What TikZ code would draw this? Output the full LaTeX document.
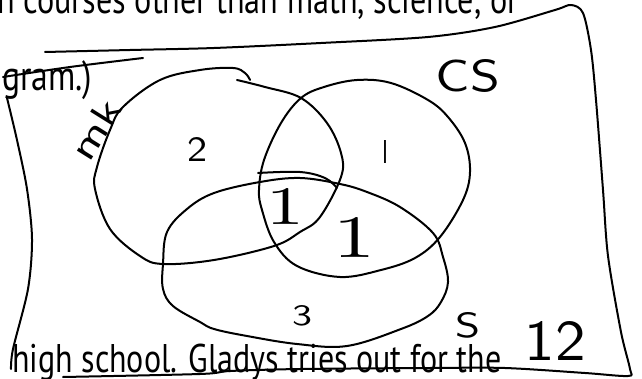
\documentclass[tikz,border=0pt]{standalone}
\usepackage{fontspec}
\newfontfamily\pts{PT Sans}
\begin{document}
\begin{tikzpicture}[x=1pt,y=-1pt,
  ink/.style={line width=2pt, line cap=round, line join=round},
  hand/.style={inner sep=0pt, font=\sffamily},
  printed/.style={inner sep=0pt, anchor=base west, font=\pts}]
\useasboundingbox (0,0) rectangle (642,379);
\begin{scope}
\clip (0,0) rectangle (642,379);
% printed text
\node[printed] (t1) at (-3,14) {\scalebox{1}[1.25]{\resizebox{521pt}{!}{n courses other than math, science, or}}};
\node[printed] (t2) at (2,91) {\scalebox{1}[1.25]{\resizebox{90pt}{!}{gram.)}}};
\node[printed] (t3) at (12,372) {\scalebox{1}[1.25]{\resizebox{489pt}{!}{high school. Gladys tries out for the}}};
\end{scope}
% outer boundary
\draw[ink] plot[smooth, tension=0.5] coordinates {(45,52) (130,50) (214,48) (321,43) (428,37) (495,27) (555,10) (571,5) (583,13) (591,50) (596,100) (603,190) (608,256) (621,332) (630,369) (628,376) (585,373) (505,368) (430,368) (300,369) (230,371) (200,374) (63,377)};
\draw[ink] plot[smooth, tension=0.5] coordinates {(143,58) (70,67) (3,77)};
\draw[ink] plot[smooth, tension=0.5] coordinates {(7,98) (17,140) (27,189) (32,239) (28,289) (13,349) (11,369)};
% left circle
\draw[ink] plot[smooth, tension=0.6] coordinates {(237,80) (265,87) (301,98) (327,123) (341,153) (341,177) (320,217) (300,232) (274,246) (214,260) (163,264) (140,256) (110,229) (95,189) (97,167) (110,130) (123,107) (160,80) (200,70) (233,68) (245,73) (250,80)};
% right circle
\draw[ink] plot[smooth cycle, tension=0.6] coordinates {(357,80) (391,83) (428,100) (448,117) (465,143) (470,172) (463,200) (440,237) (415,258) (381,270) (340,277) (297,266) (274,242) (262,210) (259,190) (264,160) (281,123) (301,98) (324,87)};
% bottom ellipse
\draw[ink] plot[smooth cycle, tension=0.6] coordinates {(214,193) (260,182) (300,178) (340,184) (367,192) (400,207) (433,233) (443,257) (448,282) (441,302) (428,316) (401,329) (347,346) (297,344) (247,336) (214,329) (200,322) (173,306) (163,289) (163,264) (167,232) (187,209)};
\draw[ink] plot[smooth, tension=0.6] coordinates {(258,173) (300,172) (325,178) (337,188)};
% handwritten labels
\node[hand] (cs) at (468,76) {\resizebox{64pt}{32pt}{CS}};
\node[hand] (two) at (197,150) {\resizebox{20pt}{24pt}{2}};
\node[hand] (onea) at (385,152) {\resizebox{6pt}{23pt}{l}};
\node[inner sep=0pt] (oneb) at (285,206) {\scalebox{1.4}[1]{\resizebox{!}{36pt}{1}}};
\node[inner sep=0pt] (onec) at (355,237) {\scalebox{1.4}[1]{\resizebox{!}{40pt}{1}}};
\node[hand] (three) at (302,316) {\resizebox{20pt}{20pt}{3}};
\node[hand] (ess) at (468,325) {\resizebox{25pt}{25pt}{S}};
\node[hand] (twelve) at (555,341) {\resizebox{61pt}{39pt}{12}};
\node[hand, rotate=58] (mk) at (95,129) {\resizebox{64pt}{26pt}{mk}};
\end{tikzpicture}
\end{document}
